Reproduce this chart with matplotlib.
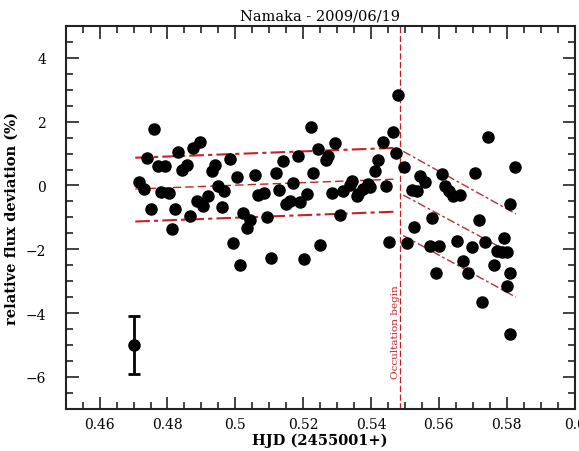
import matplotlib
matplotlib.use("Agg")
import matplotlib.pyplot as plt
from matplotlib.ticker import MultipleLocator

# ---- data ----
hjd = [0.4716, 0.4731, 0.4741, 0.4751, 0.4761, 0.4771, 0.4780, 0.4794, 0.4805, 0.4813,
       0.4823, 0.4832, 0.4844, 0.4857, 0.4866, 0.4876, 0.4886, 0.4896, 0.4906, 0.4920,
       0.4930, 0.4940, 0.4950, 0.4960, 0.4967, 0.4984, 0.4992, 0.5004, 0.5014, 0.5022,
       0.5034, 0.5043, 0.5058, 0.5068, 0.5085, 0.5094, 0.5105, 0.5120, 0.5129, 0.5142,
       0.5149, 0.5161, 0.5169, 0.5184, 0.5191, 0.5203, 0.5212, 0.5223, 0.5230, 0.5245,
       0.5250, 0.5267, 0.5274, 0.5286, 0.5294, 0.5309, 0.5318, 0.5338, 0.5343, 0.5358,
       0.5363, 0.5377, 0.5392, 0.5397, 0.5412, 0.5422, 0.5436, 0.5444, 0.5454, 0.5464,
       0.5474, 0.5481,
       0.5497, 0.5505, 0.5520, 0.5527, 0.5537, 0.5545, 0.5559, 0.5574, 0.5581, 0.5592,
       0.5601, 0.5610, 0.5618, 0.5631, 0.5643, 0.5654, 0.5662, 0.5672, 0.5685, 0.5697,
       0.5707, 0.5718, 0.5726, 0.5736, 0.5746, 0.5763, 0.5771, 0.5785, 0.5792, 0.5800,
       0.5800, 0.5810, 0.5810, 0.5810, 0.5825]
flux = [0.10, -0.11, 0.85, -0.74, 1.77, 0.62, -0.19, 0.60, -0.24, -1.36,
        -0.74, 1.06, 0.50, 0.65, -0.95, 1.18, -0.48, 1.35, -0.65, -0.32,
        0.46, 0.64, -0.01, -0.68, -0.16, 0.83, -1.81, 0.26, -2.48, -0.87,
        -1.34, -1.07, 0.34, -0.29, -0.24, -0.98, -2.28, 0.39, -0.13, 0.78,
        -0.58, -0.48, 0.08, 0.93, -0.51, -2.30, -0.27, 1.82, 0.39, 1.14,
        -1.87, 0.80, 0.93, -0.24, 1.33, -0.92, -0.16, 0.02, 0.15, -0.32,
        -0.27, -0.11, 0.05, -0.06, 0.46, 0.80, 1.37, -0.03, -1.78, 1.69,
        1.02, 2.84,
        0.57, -1.80, -0.14, -1.31, -0.16, 0.29, 0.10, -1.91, -1.03, -2.74,
        -1.91, 0.36, -0.01, -0.16, -0.34, -1.73, -0.30, -2.36, -2.75, -1.94,
        0.38, -1.08, -3.66, -1.78, 1.51, -2.48, -2.04, -2.08, -1.65, -2.09,
        -3.14, -0.58, -2.74, -4.66, 0.57]

# typical error bar
err_x = [0.4700]
err_y = [-5.0]
err_size = [0.9]

# fitted trends (endpoints): before and after occultation start
pre_x = [0.4705, 0.5475]
pre_mid = [-0.11, 0.20]
pre_up = [0.87, 1.18]
pre_lo = [-1.13, -0.82]
post_x = [0.5495, 0.5827]
post_up = [1.07, -0.89]
post_mid = [-0.30, -2.20]
post_lo = [-1.57, -3.50]

occ_start = 0.5485
title = "Namaka - 2009/06/19"
xlabel = "HJD (2455001+)"
ylabel = "relative flux deviation (%)"
occ_label = "Occultation begin"

# ---- figure ----
plt.rcParams['font.family'] = ['DejaVu Serif']
fig = plt.figure(figsize=(5.79, 4.52), dpi=100)
ax = fig.add_axes([0.1135, 0.0934, 0.8788, 0.8469])

red = '#c42228'
dd = (7, 2, 2, 2)
for yy in (pre_up, pre_lo):
    ax.plot(pre_x, yy, color=red, lw=1.5, dashes=dd, zorder=2)
ax.plot(pre_x, pre_mid, color=red, lw=1.0, dashes=(6, 3), zorder=2)
for yy in (post_up, post_mid, post_lo):
    ax.plot(post_x, yy, color='#b0303e', lw=1.0, dashes=(6, 2, 2, 2), zorder=2)

ax.axvline(occ_start, color=red, lw=0.9, dashes=(5, 2), zorder=1)
ax.text(occ_start - 0.0013, -4.55, occ_label, rotation=90, color=red,
        fontsize=7.5, ha='center', va='center')

ax.plot(hjd, flux, 'o', color='black', ms=8.0, zorder=3)
ax.errorbar(err_x, err_y, yerr=err_size, fmt='o', color='black', ms=8.0,
            elinewidth=2, capsize=4.5, capthick=2, zorder=3)

ax.set_xlim(0.45, 0.6)
ax.set_ylim(-7, 5)
ax.xaxis.set_minor_locator(MultipleLocator(0.005))
ax.yaxis.set_major_locator(MultipleLocator(2))
ax.yaxis.set_minor_locator(MultipleLocator(0.5))
ax.set_xticks([0.46, 0.48, 0.5, 0.52, 0.54, 0.56, 0.58, 0.6])
ax.set_xticklabels(['0.46', '0.48', '0.5', '0.52', '0.54', '0.56', '0.58', '0.6'])
ax.tick_params(which='both', direction='in', top=True, right=True,
               labelsize=10, width=1.2, color='#222222')
ax.tick_params(which='major', length=9)
ax.tick_params(axis='x', which='major', pad=6)
ax.tick_params(axis='y', which='major', pad=14)
ax.tick_params(which='minor', length=5)
for s in ax.spines.values():
    s.set_linewidth(1.5)
    s.set_color('#222222')

ax.set_title(title, fontsize=10.5, pad=5)
ax.set_xlabel(xlabel, fontsize=10.5, fontweight='bold', labelpad=1)
ax.set_ylabel(ylabel, fontsize=10.5, fontweight='bold', labelpad=5)

fig.savefig('out.png', dpi=100)
